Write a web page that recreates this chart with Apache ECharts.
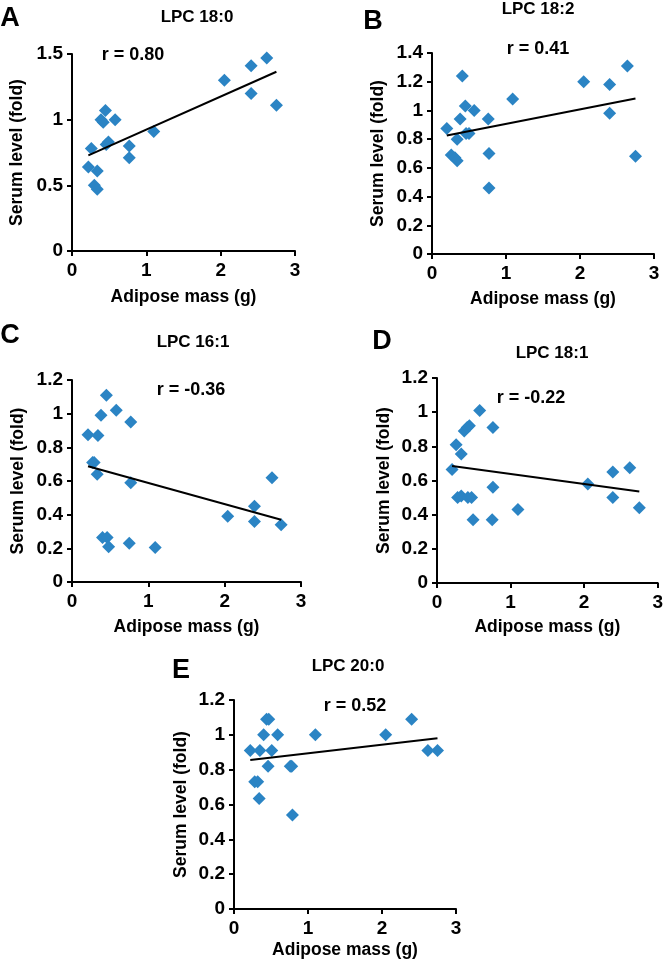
<!DOCTYPE html>
<html>
<head>
<meta charset="utf-8">
<script src="https://cdn.jsdelivr.net/npm/echarts@6/dist/echarts.min.js"></script>
<style>
  html, body { margin: 0; padding: 0; background: #fff; }
  #main { width: 666px; height: 965px; }
</style>
</head>
<body>
<div id="main"></div>
<script>
// data: adipose mass (g) vs serum level (fold)
// A - LPC 18:0
const massA  = [0.22, 0.26, 0.34, 0.30, 0.34, 0.39, 0.42, 0.45, 0.46, 0.49, 0.58, 0.77, 0.77, 1.10, 2.05, 2.41, 2.41, 2.62, 2.75]
const levelA = [0.64, 0.78, 0.61, 0.50, 0.47, 1.00, 0.98, 1.07, 0.81, 0.83, 1.00, 0.80, 0.71, 0.91, 1.30, 1.41, 1.20, 1.47, 1.11]
// B - LPC 18:2
const massB  = [0.20, 0.26, 0.31, 0.34, 0.34, 0.38, 0.41, 0.45, 0.46, 0.50, 0.57, 0.76, 0.77, 0.77, 1.09, 2.05, 2.40, 2.40, 2.64, 2.75]
const levelB = [0.875, 0.69, 0.67, 0.65, 0.80, 0.94, 1.24, 1.03, 0.84, 0.84, 1.00, 0.94, 0.70, 0.46, 1.08, 1.20, 1.18, 0.98, 1.31, 0.68]
// C - LPC 16:1
const massC  = [0.21, 0.27, 0.29, 0.33, 0.34, 0.38, 0.45, 0.40, 0.46, 0.48, 0.58, 0.75, 0.77, 0.77, 1.09, 2.04, 2.39, 2.39, 2.62, 2.74]
const levelC = [0.875, 0.71, 0.71, 0.64, 0.87, 0.99, 1.11, 0.265, 0.265, 0.21, 1.02, 0.23, 0.95, 0.59, 0.205, 0.39, 0.45, 0.36, 0.62, 0.34]
// D - LPC 18:1
const massD  = [0.205, 0.26, 0.28, 0.33, 0.33, 0.37, 0.41, 0.44, 0.42, 0.47, 0.49, 0.58, 0.75, 0.76, 0.76, 1.10, 2.05, 2.39, 2.39, 2.62, 2.75]
const levelD = [0.665, 0.81, 0.50, 0.755, 0.51, 0.89, 0.91, 0.92, 0.50, 0.50, 0.37, 1.01, 0.37, 0.91, 0.56, 0.43, 0.58, 0.65, 0.50, 0.675, 0.44]
// E - LPC 20:0
const massE  = [0.22, 0.28, 0.32, 0.34, 0.35, 0.40, 0.44, 0.47, 0.46, 0.51, 0.59, 0.76, 0.78, 0.79, 1.10, 2.05, 2.40, 2.62, 2.75]
const levelE = [0.91, 0.73, 0.73, 0.635, 0.91, 1.00, 1.09, 1.09, 0.82, 0.91, 1.00, 0.82, 0.82, 0.54, 1.00, 1.00, 1.09, 0.91, 0.91]

const panelLetters = ['A', 'B', 'C', 'D', 'E']
const panelTitles = ['LPC 18:0', 'LPC 18:2', 'LPC 16:1', 'LPC 18:1', 'LPC 20:0']
const rLabels = ['r = 0.80', 'r = 0.41', 'r = -0.36', 'r = -0.22', 'r = 0.52']
const yMaxList = [1.5, 1.4, 1.2, 1.2, 1.2]
const yStepList = [0.5, 0.2, 0.2, 0.2, 0.2]
const xMax = 3
const xStep = 1
const xName = 'Adipose mass (g)'
const yName = 'Serum level (fold)'

const masses = [massA, massB, massC, massD, massE]
const levels = [levelA, levelB, levelC, levelD, levelE]

// layout (pixels) for each panel
const layout = [
  { grid: [72, 54, 223, 197], letter: [10, 19], title: [197, 17], r: [133, 55], xGap: 37, yGap: 46 },
  { grid: [432, 53, 222, 201], letter: [373, 22], title: [538, 9], r: [538, 49], xGap: 36, yGap: 45 },
  { grid: [72, 380, 229, 202], letter: [10, 336], title: [193, 342], r: [191, 390], xGap: 36, yGap: 45 },
  { grid: [437, 378, 225, 205], letter: [382, 342], title: [552, 353], r: [531, 398], xGap: 35, yGap: 44 },
  { grid: [234, 700, 222, 209], letter: [181, 671], title: [348, 666], r: [355, 706], xGap: 32, yGap: 44 }
]

const font = '"Liberation Sans", Arial, sans-serif'
const blue = '#2b84c4'

// linear trendline (least squares) from min x to max x
function trend(xs, ys) {
  let n = xs.length
  let mx = xs.reduce((a, b) => a + b, 0) / n
  let my = ys.reduce((a, b) => a + b, 0) / n
  let sxy = 0, sxx = 0
  for (let i = 0; i < n; i++) {
    sxy += (xs[i] - mx) * (ys[i] - my)
    sxx += (xs[i] - mx) * (xs[i] - mx)
  }
  let b = sxy / sxx
  let a = my - b * mx
  let x0 = Math.min(...xs), x1 = Math.max(...xs)
  return [[x0, a + b * x0], [x1, a + b * x1]]
}

const grids = [], xAxes = [], yAxes = [], series = [], graphics = []

layout.forEach((p, i) => {
  grids.push({ left: p.grid[0], top: p.grid[1], width: p.grid[2], height: p.grid[3], containLabel: false })

  const axisCommon = {
    gridIndex: i,
    type: 'value',
    splitLine: { show: false },
    axisLine: { show: true, onZero: false, lineStyle: { color: '#000', width: 2 } },
    axisTick: { show: true, length: 5, lineStyle: { color: '#000', width: 2 } },
    nameLocation: 'middle',
    nameTextStyle: { fontSize: 17.5, fontWeight: 'bold', color: '#000', fontFamily: font }
  }
  xAxes.push(Object.assign({}, axisCommon, {
    min: 0, max: xMax, interval: xStep,
    name: xName, nameGap: p.xGap,
    axisLabel: { fontSize: 19, fontWeight: 'bold', color: '#000', fontFamily: font, margin: 10 }
  }))
  yAxes.push(Object.assign({}, axisCommon, {
    min: 0, max: yMaxList[i], interval: yStepList[i],
    name: yName, nameGap: p.yGap,
    axisLabel: { fontSize: 19, fontWeight: 'bold', color: '#000', fontFamily: font, margin: 9 }
  }))

  series.push({
    type: 'scatter',
    xAxisIndex: i, yAxisIndex: i,
    symbol: 'diamond',
    symbolSize: 13,
    itemStyle: { color: blue, opacity: 1 },
    data: masses[i].map((x, k) => [x, levels[i][k]]),
    z: 2
  })
  series.push({
    type: 'line',
    xAxisIndex: i, yAxisIndex: i,
    showSymbol: false,
    silent: true,
    lineStyle: { color: '#000', width: 2 },
    data: trend(masses[i], levels[i]),
    z: 3
  })

  // panel letter, title and r value
  graphics.push({ type: 'text', x: p.letter[0], y: p.letter[1],
    style: { text: panelLetters[i], fontSize: 27, fontWeight: 'bold', fill: '#000', fontFamily: font, textAlign: 'center', textVerticalAlign: 'middle' } })
  graphics.push({ type: 'text', x: p.title[0], y: p.title[1],
    style: { text: panelTitles[i], fontSize: 17, fontWeight: 'bold', fill: '#000', fontFamily: font, textAlign: 'center', textVerticalAlign: 'middle' } })
  graphics.push({ type: 'text', x: p.r[0], y: p.r[1],
    style: { text: rLabels[i], fontSize: 18, fontWeight: 'bold', fill: '#000', fontFamily: font, textAlign: 'center', textVerticalAlign: 'middle' } })
})

var myChart = echarts.init(document.getElementById('main'))
myChart.setOption({
  animation: false,
  backgroundColor: '#fff',
  grid: grids,
  xAxis: xAxes,
  yAxis: yAxes,
  series: series,
  graphic: graphics
})
</script>
</body>
</html>
